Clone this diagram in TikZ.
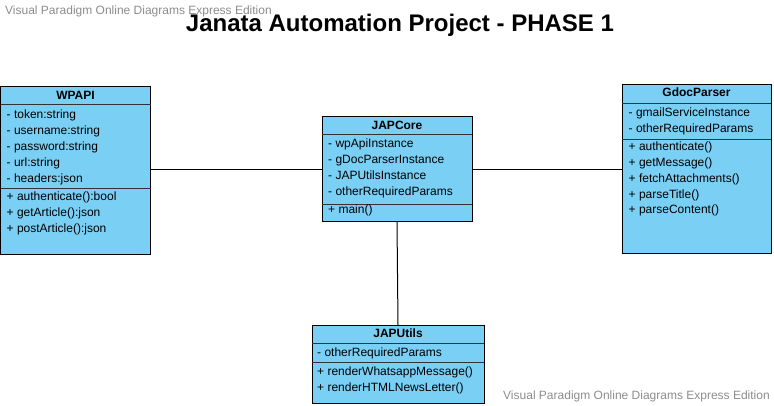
\documentclass[tikz,border=0pt]{standalone}
\usepackage{fontspec}
\setmainfont{Liberation Sans}
\definecolor{boxfill}{RGB}{122,207,245}
\definecolor{wmgray}{RGB}{140,140,140}
\begin{document}
\begin{tikzpicture}[x=1pt,y=-1pt,
  classbox/.style={draw=black,line width=1pt,fill=boxfill,inner sep=0pt,outer sep=0pt},
  sepline/.style={draw=black!80,line width=0.9pt},
  member/.style={anchor=base west,inner sep=0pt,font=\fontsize{12}{14}\selectfont},
  cname/.style={anchor=base,inner sep=0pt,font=\fontsize{12}{14}\selectfont\bfseries},
  conn/.style={draw=black,line width=1pt},
  wmark/.style={anchor=base west,inner sep=0pt,text=wmgray,font=\fontsize{12}{14}\selectfont}]
\useasboundingbox (0,0) rectangle (774,406);
% title and watermarks
\node[wmark] (wm1) at (5,15) {Visual Paradigm Online Diagrams Express Edition};
\node[anchor=base,inner sep=0pt,font=\fontsize{24}{28}\selectfont\bfseries] (title) at (400,31.5) {Janata Automation Project - PHASE 1};
\node[wmark] (wm2) at (503,399) {Visual Paradigm Online Diagrams Express Edition};
% WPAPI
\node[classbox,minimum width=150pt,minimum height=168pt] (wpapi) at (75.5,171) {};
\draw[sepline] (0.5,104) -- (150.5,104);
\draw[sepline] (0.5,188) -- (150.5,188);
\node[cname] (wpt) at (75.5,100) {WPAPI};
\node[member] (wp1) at (6.5,118.5) {- token:string};
\node[member] (wp2) at (6.5,134.5) {- username:string};
\node[member] (wp3) at (6.5,150.5) {- password:string};
\node[member] (wp4) at (6.5,166.5) {- url:string};
\node[member] (wp5) at (6.5,182.5) {- headers:json};
\node[member] (wp6) at (6.5,201) {+ authenticate():bool};
\node[member] (wp7) at (6.5,217) {+ getArticle():json};
\node[member] (wp8) at (6.5,233) {+ postArticle():json};
% JAPCore
\node[classbox,minimum width=150pt,minimum height=105pt] (japcore) at (397,169.5) {};
\draw[sepline] (322,134) -- (472,134);
\draw[sepline] (322,204) -- (472,204);
\node[cname] (jct) at (397,129.3) {JAPCore};
\node[member] (jc1) at (328,147.7) {- wpApiInstance};
\node[member] (jc2) at (328,163.7) {- gDocParserInstance};
\node[member] (jc3) at (328,179.7) {- JAPUtilsInstance};
\node[member] (jc4) at (328,195.7) {- otherRequiredParams};
\node[member] (jc5) at (328,213.3) {+ main()};
% GdocParser
\node[classbox,minimum width=149pt,minimum height=169pt] (gdoc) at (696.5,169.5) {};
\draw[sepline] (622,103) -- (771,103);
\draw[sepline] (622,139) -- (771,139);
\node[cname] (gdt) at (696.5,96.7) {GdocParser};
\node[member] (gd1) at (628.5,116.7) {- gmailServiceInstance};
\node[member] (gd2) at (628.5,132.7) {- otherRequiredParams};
\node[member] (gd3) at (628.5,151) {+ authenticate()};
\node[member] (gd4) at (628.5,166.7) {+ getMessage()};
\node[member] (gd5) at (628.5,182.3) {+ fetchAttachments()};
\node[member] (gd6) at (628.5,198.3) {+ parseTitle()};
\node[member] (gd7) at (628.5,214) {+ parseContent()};
% JAPUtils
\node[classbox,minimum width=172pt,minimum height=78pt] (japutils) at (398,364) {};
\draw[sepline] (312,343) -- (484,343);
\draw[sepline] (312,362) -- (484,362);
\node[cname] (jut) at (398,337.7) {JAPUtils};
\node[member] (ju1) at (317,356.7) {- otherRequiredParams};
\node[member] (ju2) at (317,375) {+ renderWhatsappMessage()};
\node[member] (ju3) at (317,391) {+ renderHTMLNewsLetter()};
% connectors
\draw[conn] (wpapi.east |- japcore.west) -- (japcore.west);
\draw[conn] (japcore.east) -- (gdoc.west);
\draw[conn] (japcore.south) -- (japutils.north);
\end{tikzpicture}
\end{document}
